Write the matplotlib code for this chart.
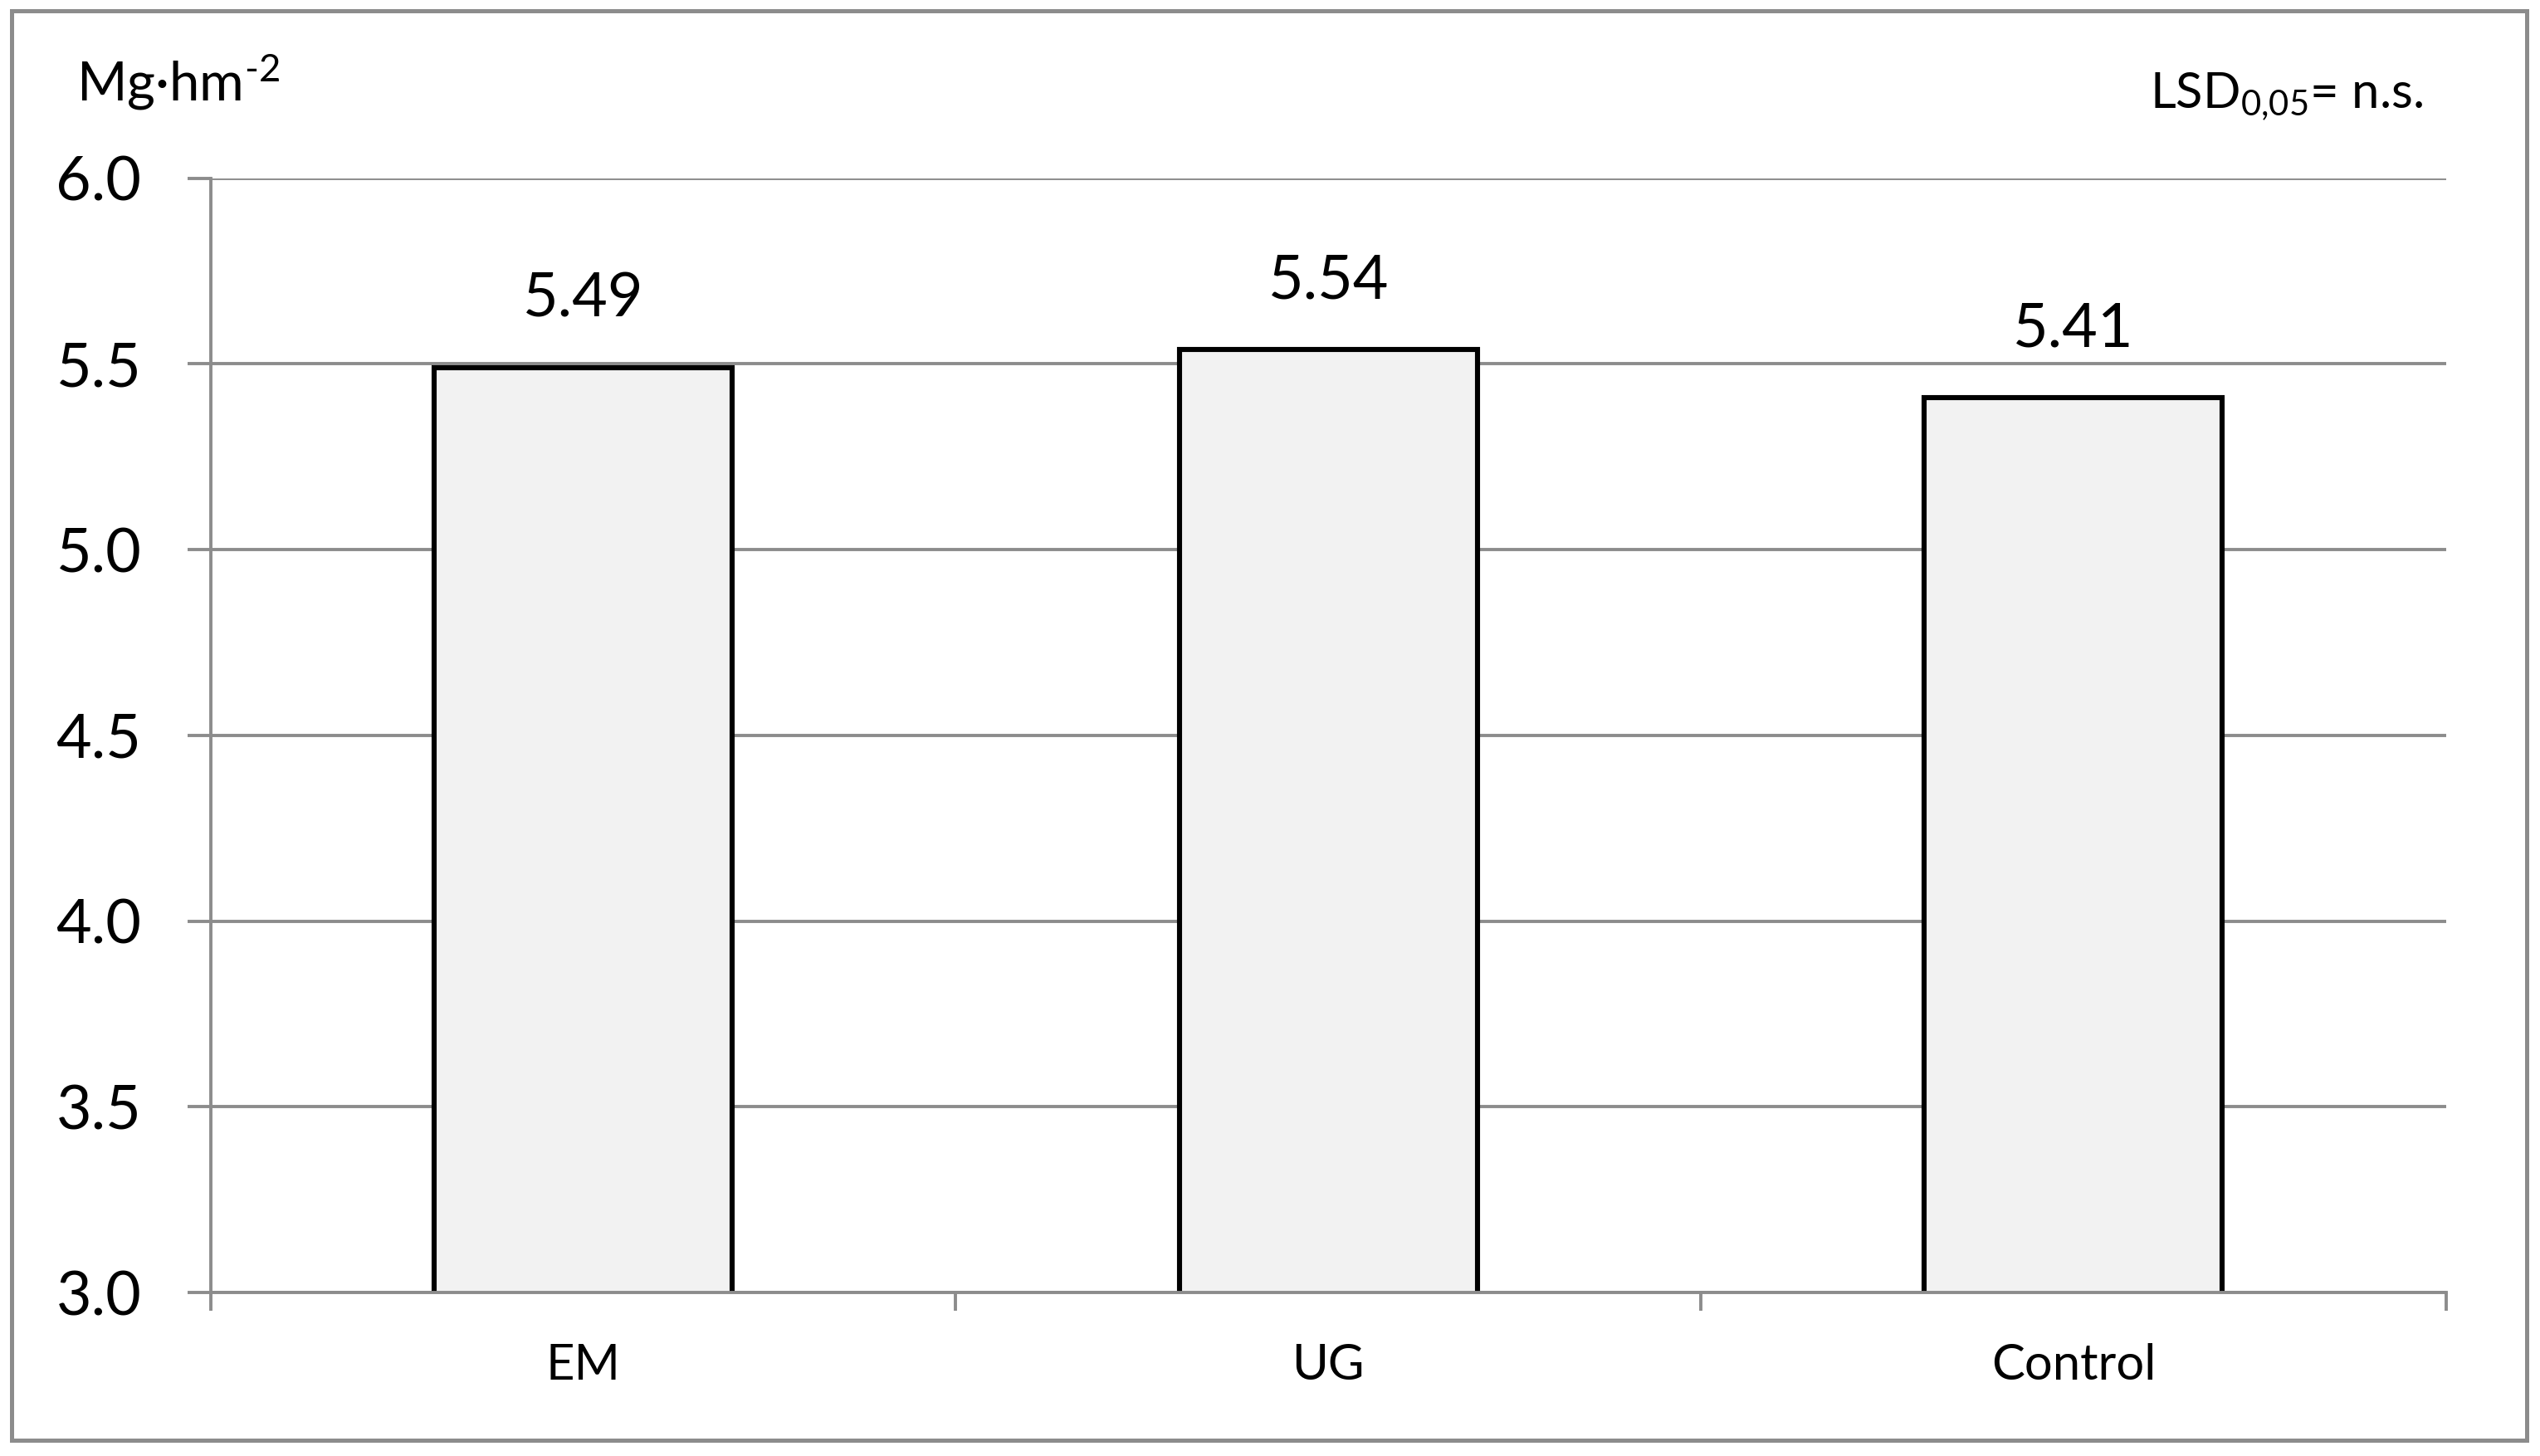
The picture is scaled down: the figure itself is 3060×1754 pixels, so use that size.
import matplotlib
matplotlib.use("Agg")
import matplotlib.pyplot as plt
from matplotlib.patches import Rectangle

# 数据
categories = ["EM", "UG", "Control"]
values = [5.49, 5.54, 5.41]
yticks = [3.0, 3.5, 4.0, 4.5, 5.0, 5.5, 6.0]

plt.rcParams['font.family'] = ['Lato', 'DejaVu Sans']
plt.rcParams['mathtext.fontset'] = 'custom'
plt.rcParams['mathtext.rm'] = 'Lato'
plt.rcParams['mathtext.it'] = 'Lato:italic'
plt.rcParams['mathtext.default'] = 'rm'

grey = '#8c8c8c'

fig = plt.figure(figsize=(15.3, 8.77), dpi=200)
ax = fig.add_axes([0.0829, 0.1123, 0.963 - 0.0829, 0.8776 - 0.1123])

x = range(len(categories))
ax.bar(x, values, width=0.4, bottom=0, color='#f2f2f2', edgecolor='black',
       linewidth=2.2, zorder=3)

ax.set_xlim(-0.5, len(categories) - 0.5)
ax.set_ylim(3.0, 6.0)
ax.set_yticks(yticks)
ax.set_yticklabels(["%.1f" % t for t in yticks], fontsize=26.5)
ax.set_xticks(x)
ax.set_xticklabels(categories, fontsize=21.5)

# 分类边界的刻度
ax.set_xticks([i - 0.5 for i in range(len(categories) + 1)], minor=True)
ax.tick_params(axis='x', which='major', length=0, pad=22)
ax.tick_params(axis='x', which='minor', length=8, width=1.4, color=grey)
ax.tick_params(axis='y', length=10, width=1.4, color=grey, pad=20)

ax.grid(axis='y', color=grey, linewidth=1.4, zorder=0)
ax.set_axisbelow(True)

for side in ['top', 'right']:
    ax.spines[side].set_visible(False)
for side in ['left', 'bottom']:
    ax.spines[side].set_color(grey)
    ax.spines[side].set_linewidth(1.4)
ax.spines['bottom'].set_zorder(4)

for xi, v in zip(x, values):
    ax.annotate("%.2f" % v, (xi, v), xytext=(0, 22), textcoords='offset points',
                ha='center', va='baseline', fontsize=26.5)

fig.text(0.030, 0.931, r'Mg·hm$^{\text{-}2}$', fontsize=23.5, ha='left', va='baseline')
fig.text(0.954, 0.926, r'LSD$_{0{,}05}$= n.s.', fontsize=21.5, ha='right', va='baseline')

# 外框
fig.patches.append(Rectangle((0.0046, 0.011), 0.9902, 0.9816, transform=fig.transFigure,
                             fill=False, edgecolor=grey, linewidth=1.8))

fig.savefig("out.png", dpi=200)
